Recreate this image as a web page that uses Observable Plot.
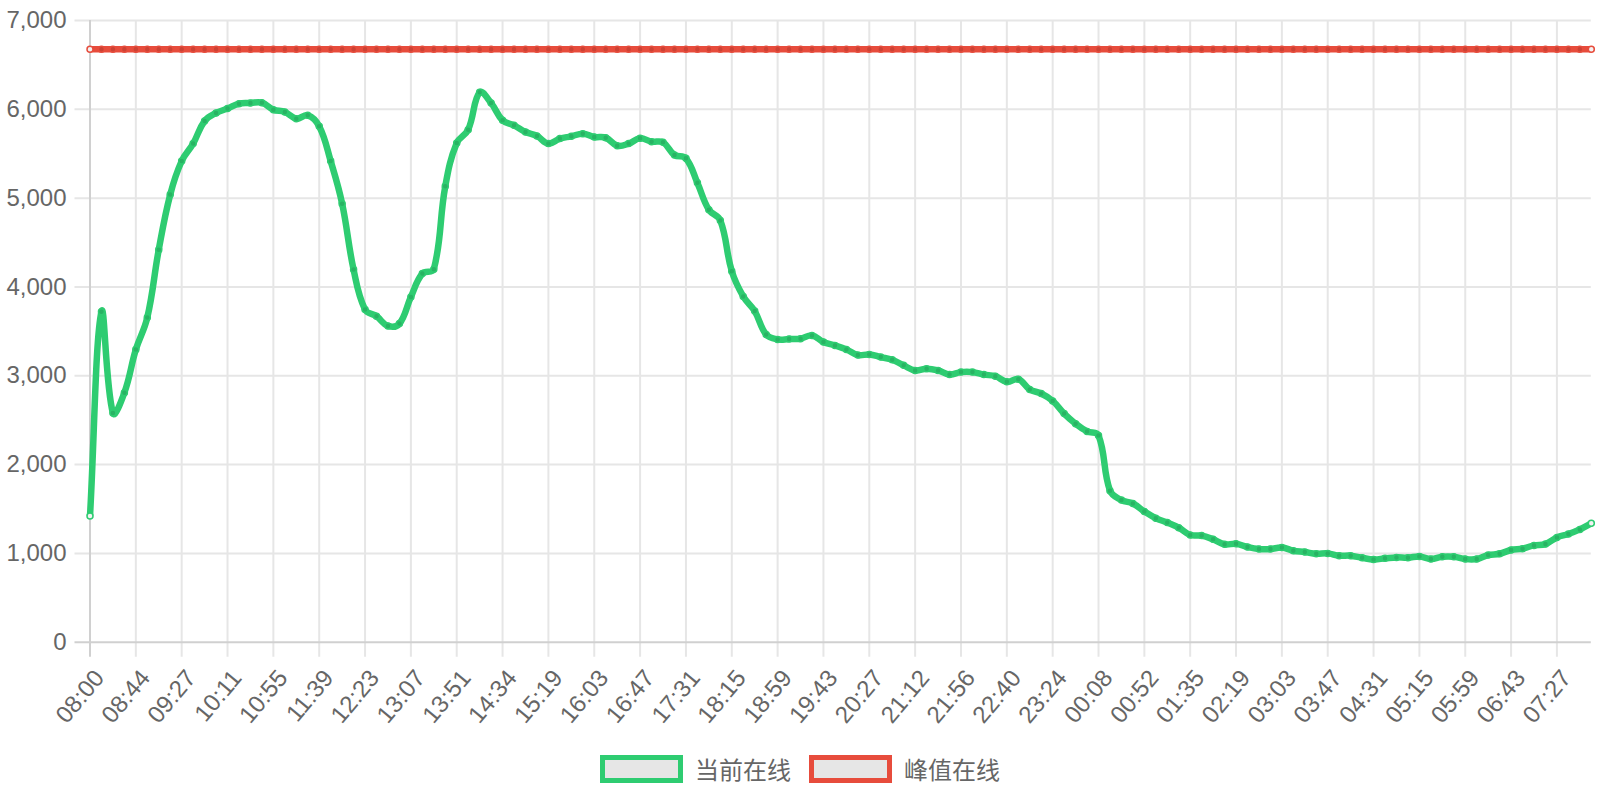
<!DOCTYPE html>
<html>
<head>
<meta charset="utf-8">
<script src="https://cdn.jsdelivr.net/npm/d3@7"></script>
<script src="https://cdn.jsdelivr.net/npm/@observablehq/plot@0.6"></script>
<style>
  html, body { margin: 0; padding: 0; background: #fff; }
  #wrap { position: relative; width: 1600px; height: 800px; overflow: hidden; }
  #legend { position: absolute; top: 755px; left: 0; width: 1600px; display: flex; justify-content: center; align-items: center;
            font-family: "Liberation Sans", "Noto Sans CJK SC", Arial, sans-serif; font-size: 24px; color: #666; }
  .item { display: flex; align-items: center; margin: 0 9px; }
  .box { width: 73px; height: 18px; border: 5px solid; background: #e6e6e6; margin-right: 12px; }
  .lbl { font-family: "Noto Sans CJK SC", "Liberation Sans", sans-serif; line-height: 28px; }
</style>
</head>
<body>
<div id="wrap">
  <div id="chart"></div>
  <div id="legend"></div>
</div>
<script>
// Tick labels shown on the x axis (one every 4 samples)
const tickLabels = ["08:00","08:44","09:27","10:11","10:55","11:39","12:23","13:07","13:51","14:34","15:19","16:03","16:47","17:31","18:15","18:59","19:43","20:27","21:12","21:56","22:40","23:24","00:08","00:52","01:35","02:19","03:03","03:47","04:31","05:15","05:59","06:43","07:27"];

// 当前在线 (current online), one sample per ~11 minutes
const currentOnline = [
  1420,3720,2580,2810,3295,3655,4420,5040,5418,5614,
  5869,5959,6008,6064,6071,6075,5996,5970,5895,5932,
  5809,5418,4938,4195,3745,3670,3561,3587,3888,4150,
  4199,5133,5621,5771,6191,6071,5876,5820,5745,5700,
  5614,5670,5696,5726,5689,5681,5591,5614,5674,5636,
  5629,5486,5448,5172,4869,4749,4178,3893,3728,3465,
  3409,3413,3417,3454,3379,3342,3297,3233,3240,3210,
  3180,3117,3060,3079,3060,3015,3041,3041,3013,2995,
  2932,2962,2845,2800,2717,2574,2460,2373,2328,1706,
  1600,1562,1472,1396,1347,1290,1207,1200,1158,1102,
  1109,1072,1049,1049,1066,1030,1015,996,1000,974,
  974,951,932,944,955,951,966,936,962,962,
  936,936,981,996,1038,1053,1090,1105,1180,1218,
  1270,1338
];

// 峰值在线 (peak online)
const peakOnline = [
  6676,6676,6676,6676,6676,6676,6676,6676,6676,6676,6676,6676,
  6676,6676,6676,6676,6676,6676,6676,6676,6676,6676,6676,6676,
  6676,6676,6676,6676,6676,6676,6676,6676,6676,6676,6676,6676,
  6676,6676,6676,6676,6676,6676,6676,6676,6676,6676,6676,6676,
  6676,6676,6676,6676,6676,6676,6676,6676,6676,6676,6676,6676,
  6676,6676,6676,6676,6676,6676,6676,6676,6676,6676,6676,6676,
  6676,6676,6676,6676,6676,6676,6676,6676,6676,6676,6676,6676,
  6676,6676,6676,6676,6676,6676,6676,6676,6676,6676,6676,6676,
  6676,6676,6676,6676,6676,6676,6676,6676,6676,6676,6676,6676,
  6676,6676,6676,6676,6676,6676,6676,6676,6676,6676,6676,6676,
  6676,6676,6676,6676,6676,6676,6676,6676,6676,6676,6676,6676
];

const yTicks = [0,1000,2000,3000,4000,5000,6000,7000];
const seriesNames = ["当前在线", "峰值在线"];
const seriesColors = ["#2ecc71", "#e74c3c"];

const tickIdx = tickLabels.map((_, k) => k * 4);
const cur = currentOnline.map((v, i) => ({i, v}));
const peak = peakOnline.map((v, i) => ({i, v}));
const lastIdx = currentOnline.length - 1;
const isEnd = d => d.i === 0 || d.i === lastIdx;

// Chart.js v2 style spline (tension 0.4)
function chartjsCurve(context) {
  let pts = [];
  return {
    areaStart() {}, areaEnd() {},
    lineStart() { pts = []; },
    point(x, y) { pts.push([+x, +y]); },
    lineEnd() {
      const n = pts.length; if (!n) return;
      const t = 0.4;
      const cps = pts.map((p, i) => {
        const pr = pts[Math.max(0, i - 1)], nx = pts[Math.min(n - 1, i + 1)];
        const d01 = Math.hypot(p[0] - pr[0], p[1] - pr[1]);
        const d12 = Math.hypot(nx[0] - p[0], nx[1] - p[1]);
        let s01 = d01 / (d01 + d12), s12 = d12 / (d01 + d12);
        if (!isFinite(s01)) s01 = 0; if (!isFinite(s12)) s12 = 0;
        const fa = t * s01, fb = t * s12;
        return {
          a: [p[0] - fa * (nx[0] - pr[0]), p[1] - fa * (nx[1] - pr[1])],
          b: [p[0] + fb * (nx[0] - pr[0]), p[1] + fb * (nx[1] - pr[1])]
        };
      });
      context.moveTo(pts[0][0], pts[0][1]);
      for (let i = 1; i < n; i++) {
        context.bezierCurveTo(cps[i-1].b[0], cps[i-1].b[1], cps[i].a[0], cps[i].a[1], pts[i][0], pts[i][1]);
      }
    }
  };
}

const H = 740;
const chart = Plot.plot({
  width: 1600,
  height: H,
  marginLeft: 89.5,
  marginRight: 9.2,
  marginTop: 20,
  marginBottom: H - 641.7,
  style: {fontFamily: "'Liberation Sans', Arial, sans-serif", fontSize: "24px", color: "#666", background: "#fff", overflow: "visible"},
  x: {domain: [0, lastIdx], axis: null},
  y: {domain: [0, 7000], axis: null},
  marks: [
    Plot.ruleY(yTicks.filter(d => d > 0), {y: d => d, stroke: "#e6e6e6", strokeWidth: 2, insetLeft: -15}),
    Plot.ruleX(tickIdx.filter(d => d > 0), {x: d => d, stroke: "#e6e6e6", strokeWidth: 2, insetBottom: -15}),
    Plot.ruleY([0], {stroke: "#d0d0d0", strokeWidth: 2, insetLeft: -15}),
    Plot.ruleX([0], {stroke: "#d0d0d0", strokeWidth: 2, insetBottom: -15}),
    Plot.text(yTicks, {y: d => d, frameAnchor: "left", dx: -23.5, textAnchor: "end", text: d => d3.format(",")(d), fill: "#666", fontSize: 24}),
    Plot.text(tickIdx, {x: d => d, frameAnchor: "bottom", dx: 9.5, dy: 31.5, rotate: -50, textAnchor: "end", lineAnchor: "middle", text: (d, k) => tickLabels[k], fill: "#666", fontSize: 24}),
    Plot.line(peak, {x: "i", y: "v", stroke: seriesColors[1], strokeWidth: 6.5, strokeLinecap: "butt", curve: chartjsCurve}),
    Plot.dot(peak, {x: "i", y: "v", r: 3, fill: d => isEnd(d) ? "#f2f2f2" : "rgba(0,0,0,0.12)", stroke: seriesColors[1], strokeWidth: 1.5}),
    Plot.line(cur, {x: "i", y: "v", stroke: seriesColors[0], strokeWidth: 6.5, strokeLinecap: "butt", curve: chartjsCurve}),
    Plot.dot(cur, {x: "i", y: "v", r: 3, fill: d => isEnd(d) ? "#f2f2f2" : "rgba(0,0,0,0.12)", stroke: seriesColors[0], strokeWidth: 1.5})
  ]
});
document.getElementById("chart").appendChild(chart);

const legend = document.getElementById("legend");
seriesNames.forEach((name, k) => {
  const item = document.createElement("div");
  item.className = "item";
  const box = document.createElement("div");
  box.className = "box";
  box.style.borderColor = seriesColors[k];
  const lbl = document.createElement("span");
  lbl.className = "lbl";
  lbl.textContent = name;
  item.appendChild(box);
  item.appendChild(lbl);
  legend.appendChild(item);
});
</script>
</body>
</html>
